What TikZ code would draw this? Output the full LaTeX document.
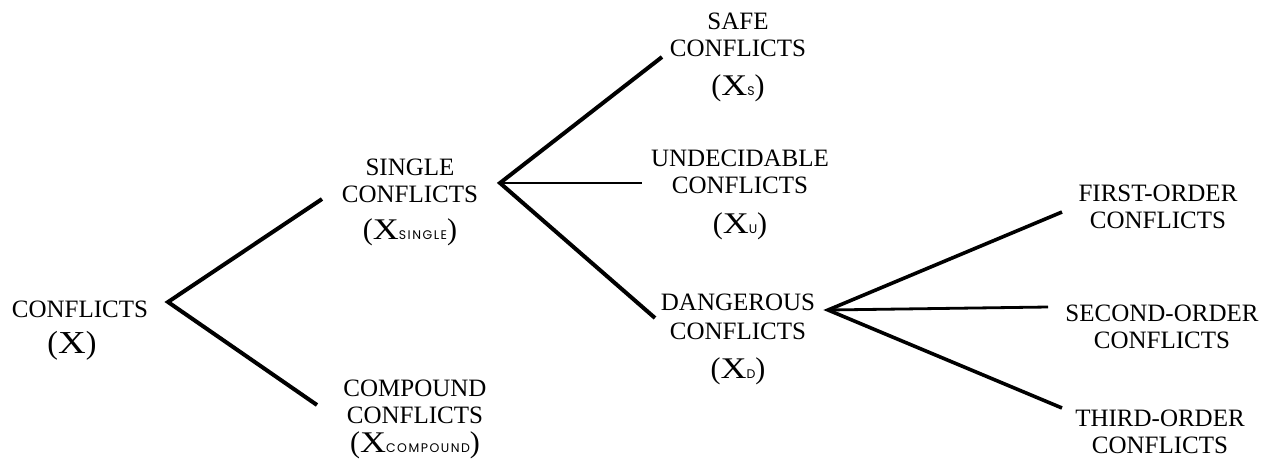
\documentclass[tikz,border=0pt]{standalone}
\usepackage{fontspec}
\usepackage{graphicx}
\setmainfont{Liberation Serif}
\newfontfamily\subfnt[LetterSpace=12]{Poppins}
\newcommand\sbs[1]{{\subfnt\fontsize{12.5}{12.5}\selectfont #1}}
\newcommand\xsub[1]{{\fontsize{30}{30}\selectfont(\scalebox{1.2}[1]{X}\sbs{#1})}}
\tikzset{
  lbl/.style={anchor=base, align=center, inner sep=0pt, font=\fontsize{25}{27}\selectfont},
  branch/.style={line width=4pt, line join=miter},
  flat/.style={line width=2.8pt}
}
\begin{document}
\begin{tikzpicture}[x=1pt,y=-1pt]
\useasboundingbox (0,0) rectangle (1273,472);
% labels (anchored at the baseline of their last line)
\node[lbl] (root) at (80,353) {CONFLICTS\\[9pt]{\fontsize{32}{32}\selectfont(\scalebox{1.2}[1]{X})\hspace*{16pt}}};
\node[lbl] (single) at (410,239) {SINGLE\\CONFLICTS\\[10pt]\xsub{SINGLE}};
\node[lbl] (compound) at (415,452) {COMPOUND\\CONFLICTS\\[2pt]\xsub{COMPOUND}};
\node[lbl] (safe) at (738,95) {SAFE\\CONFLICTS\\[12pt]\xsub{S}};
\node[lbl] (undec) at (740,233) {UNDECIDABLE\\CONFLICTS\\[13pt]\xsub{U}};
\node[lbl] (dang) at (738,378) {DANGEROUS\\[2pt]CONFLICTS\\[12pt]\xsub{D}};
\node[lbl] (first) at (1158,228) {FIRST-ORDER\\CONFLICTS};
\node[lbl] (second) at (1162,348) {SECOND-ORDER\\CONFLICTS};
\node[lbl] (third) at (1160,453) {THIRD-ORDER\\CONFLICTS};
% junctions and branch ends
\coordinate (jr) at (168,302);
\coordinate (js) at (500,183);
\coordinate (jd) at (828,310);
\coordinate (in-single) at (322,199);
\coordinate (in-compound) at (317,405);
\coordinate (in-safe) at (662,57);
\coordinate (in-undec) at (642,183);
\coordinate (in-dang) at (655,318);
\coordinate (in-first) at (1062,212);
\coordinate (in-second) at (1048,307);
\coordinate (in-third) at (1062,408);
% connectors
\draw[branch] (in-single) -- (jr) -- (in-compound);
\draw[branch] (in-safe) -- (js) -- (in-dang);
\draw[flat] (js) -- (in-undec);
\draw[branch, line width=3.6pt] (in-first) -- (jd) -- (in-third);
\draw[flat] (jd) -- (in-second);
\end{tikzpicture}
\end{document}
